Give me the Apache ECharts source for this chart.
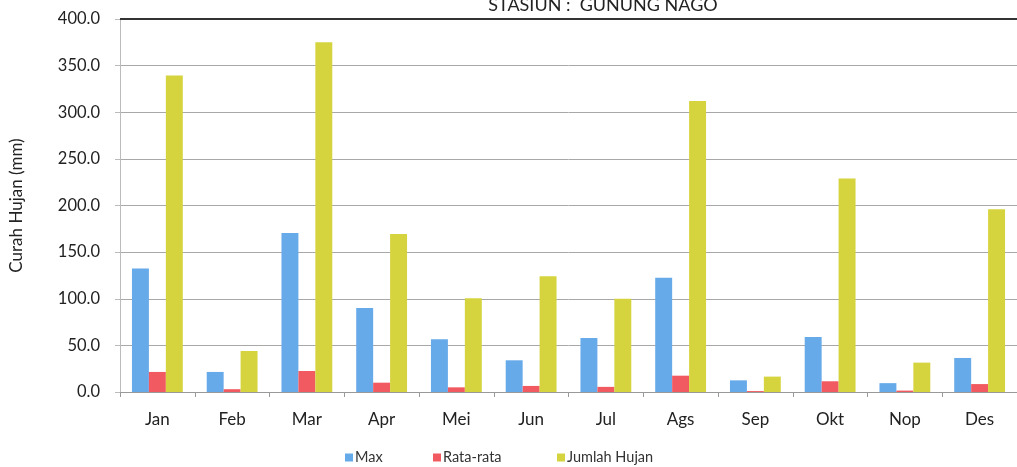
<!DOCTYPE html>
<html>
<head>
<meta charset="utf-8">
<script src="https://cdn.jsdelivr.net/npm/echarts@6/dist/echarts.min.js"></script>
<style>html,body{margin:0;padding:0;background:#fff}#c{width:1017px;height:467px}</style>
</head>
<body>
<div id="c"></div>
<script>
const categories = ['Jan','Feb','Mar','Apr','Mei','Jun','Jul','Ags','Sep','Okt','Nop','Des'];
const maxValues = [132.5, 21.5, 170.5, 90, 56.5, 34, 58, 122.5, 12.5, 59, 9.5, 36.5];
const rataValues = [21.5, 3, 22.5, 10, 5, 6.5, 5.5, 17.5, 1, 11.5, 1.5, 8.5];
const jumlahValues = [339.5, 44, 375, 169.5, 100.5, 124, 100, 312, 16.5, 229, 31.5, 196];
const yTicks = {min: 0, max: 400, interval: 50};
const titleText = 'STASIUN :  GUNUNG NAGO';
const seriesNames = ['Max', 'Rata-rata', 'Jumlah Hujan'];

const font = 'Lato, "Open Sans", sans-serif';
const legendLeft = [345, 433, 557];
const chart = echarts.init(document.getElementById('c'));
chart.setOption({
  animation: false,
  title: {text: titleText, left: 598, top: -9, textAlign: 'center',
    textStyle: {fontFamily: font, fontSize: 18, fontWeight: 'normal', color: '#222'}},
  grid: {left: 120, right: -10, top: 19, bottom: 75},
  legend: seriesNames.map((n, i) => ({
    data: [n], left: legendLeft[i], top: 450, itemWidth: 8, itemHeight: 8, icon: 'rect', padding: 0,
    textStyle: {fontFamily: font, fontSize: 14.5, color: '#333', padding: [0, 0, 0, -3]}
  })),
  xAxis: {type: 'category', data: categories,
    axisLine: {lineStyle: {color: '#999'}},
    axisTick: {show: true, length: 5, lineStyle: {color: '#999'}},
    axisLabel: {fontFamily: font, fontSize: 17, color: '#222', margin: 19}},
  yAxis: {type: 'value', min: yTicks.min, max: yTicks.max, interval: yTicks.interval,
    name: 'Curah Hujan (mm)', nameLocation: 'middle', nameGap: 95, nameRotate: 90,
    nameTextStyle: {fontFamily: font, fontSize: 17, color: '#222'},
    axisLine: {show: true, lineStyle: {color: '#bbb'}},
    axisTick: {show: true, length: 5, lineStyle: {color: '#bbb'}},
    axisLabel: {fontFamily: font, fontSize: 16.5, color: '#222', margin: 20,
      formatter: v => v.toFixed(1)},
    splitLine: {lineStyle: {color: '#a8a8a8'}}},
  series: [
    {name: seriesNames[0], type: 'bar', data: maxValues, barGap: '0%', barCategoryGap: '32%',
      itemStyle: {color: '#67aaea'}},
    {name: seriesNames[1], type: 'bar', data: rataValues, itemStyle: {color: '#f05a60'}},
    {name: seriesNames[2], type: 'bar', data: jumlahValues, itemStyle: {color: '#d5d43e'},
      markLine: {silent: true, symbol: 'none', label: {show: false},
        lineStyle: {color: '#333', width: 2, type: 'solid'}, data: [{yAxis: 400}]}}
  ]
});
</script>
</body>
</html>
